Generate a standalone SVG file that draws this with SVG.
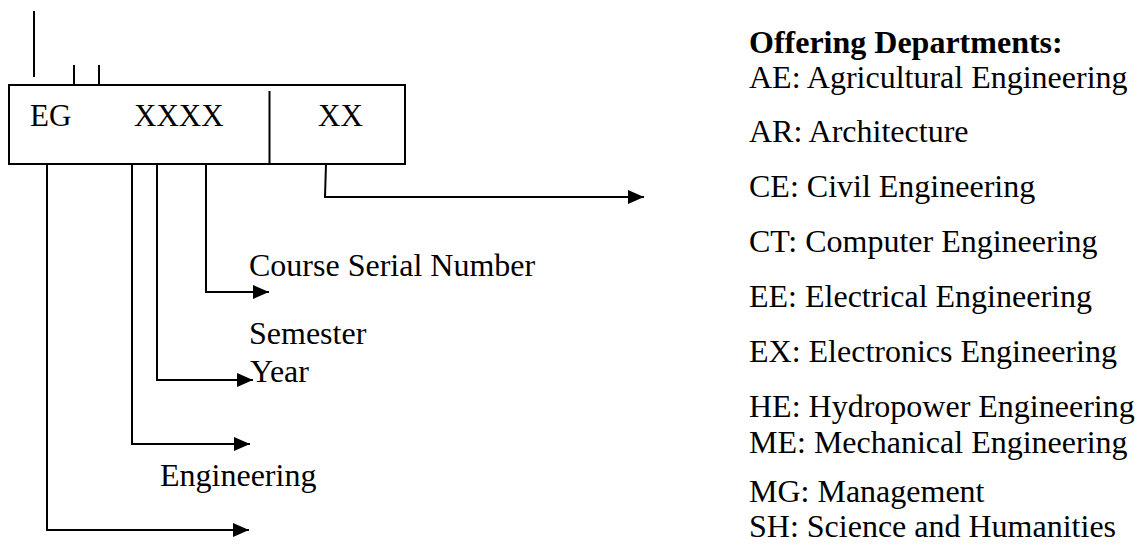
<svg xmlns="http://www.w3.org/2000/svg" width="1141" height="551" viewBox="0 0 1141 551">
<style>
text{font-family:"Liberation Serif","Times New Roman",serif;fill:#000;font-size:31px}
.r{font-size:32px}
.b{font-weight:bold}
.ln{fill:none;stroke:#000;stroke-width:2}
.c{fill:none;stroke:#000;stroke-width:2;marker-end:url(#ah)}
</style>
<defs>
<marker id="ah" markerUnits="userSpaceOnUse" markerWidth="16" markerHeight="14" refX="16" refY="7" orient="auto">
<path d="M0,0 L16,7 L0,14 z" fill="#000"/>
</marker>
</defs>
<g id="code-box">
<line class="ln" x1="34" y1="11" x2="34" y2="77"/>
<line class="ln" x1="74" y1="65" x2="74" y2="85"/>
<line class="ln" x1="99" y1="65" x2="99" y2="85"/>
<rect class="ln" x="9" y="85" width="396" height="79"/>
<line class="ln" x1="269.5" y1="91" x2="269.5" y2="164"/>
<text x="30" y="126">EG</text>
<text x="134" y="126">XXXX</text>
<text x="318" y="126">XX</text>
</g>
<g id="connectors">
<polyline class="c" points="47,164 47,530 249,530"/>
<polyline class="c" points="132,164 132,444 250,444"/>
<polyline class="c" points="157,164 157,380 253,380"/>
<polyline class="c" points="206,164 206,292 269,292"/>
<polyline class="c" points="326,164 325,197 644,197"/>
</g>
<g id="label-serial"><text class="r" x="249" y="276">Course Serial Number</text></g>
<g id="label-semester"><text class="r" x="249" y="344">Semester</text></g>
<g id="label-year"><text class="r" x="250" y="382">Year</text></g>
<g id="label-engineering"><text class="r" x="160" y="486">Engineering</text></g>
<g id="departments">
<text class="r b" x="749" y="53">Offering Departments:</text>
<text class="r" x="749" y="88">AE: Agricultural Engineering</text>
<text class="r" x="749" y="142">AR: Architecture</text>
<text class="r" x="749" y="197">CE: Civil Engineering</text>
<text class="r" x="749" y="252">CT: Computer Engineering</text>
<text class="r" x="749" y="307">EE: Electrical Engineering</text>
<text class="r" x="749" y="362">EX: Electronics Engineering</text>
<text class="r" x="749" y="417">HE: Hydropower Engineering</text>
<text class="r" x="749" y="453">ME: Mechanical Engineering</text>
<text class="r" x="749" y="502">MG: Management</text>
<text class="r" x="749" y="537">SH: Science and Humanities</text>
</g>
</svg>
